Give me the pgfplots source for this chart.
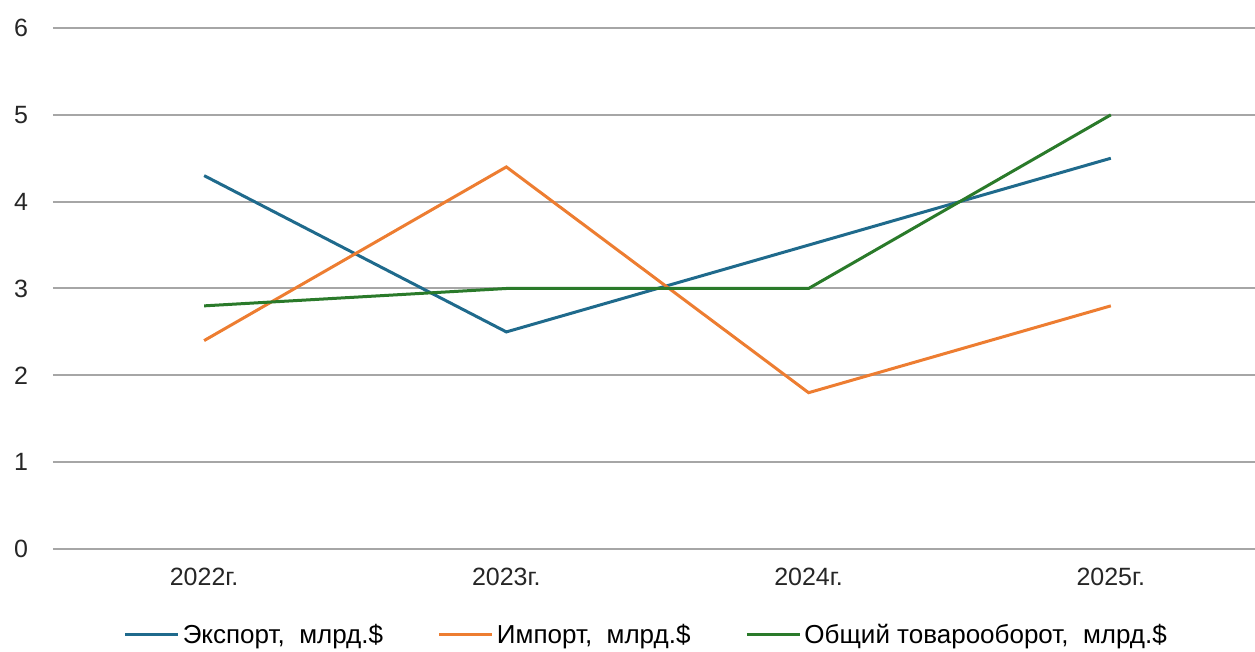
\documentclass[border=0pt]{standalone}
\usepackage{pgfplots}
\pgfplotsset{compat=1.18}
\usepackage{fontspec}
\setmainfont{Liberation Sans}
\definecolor{cexp}{HTML}{1F6A8C}
\definecolor{cimp}{HTML}{ED7D31}
\definecolor{ctot}{HTML}{2A7A2A}
\definecolor{cgrid}{HTML}{A6A6A6}
\begin{document}
\begin{tikzpicture}
\useasboundingbox (0,0) rectangle (627.5pt,326pt);
\begin{axis}[
  at={(26.5pt,51.5pt)}, anchor=south west,
  scale only axis, width=601pt, height=260.5pt,
  xmin=-0.5, xmax=3.477, ymin=0, ymax=6,
  xtick={0,1,2,3}, xticklabels={2022г.,2023г.,2024г.,2025г.},
  ytick={0,1,...,6},
  ymajorgrids, grid style={cgrid, line width=1pt},
  axis line style={draw=none}, major tick length=0pt,
  tick label style={font=\fontsize{12.5}{14}\selectfont, color=black!85},
  /pgf/number format/assume math mode=true,
  yticklabel style={anchor=east, xshift=-9pt},
  xticklabel style={yshift=-6pt},
  legend columns=3,
  legend style={draw=none, at={(0.494,-0.165)}, anchor=center,
    font=\fontsize{13}{15}\selectfont, column sep=0pt,
    nodes={inner xsep=1.5pt},
    /tikz/every odd column/.append style={column sep=0pt},
    /tikz/every even column/.append style={column sep=26pt}},
  legend image code/.code={\draw[#1] (0pt,0pt) -- (26.5pt,0pt);},
  clip=false,
]
\addplot[cexp, line width=1.5pt] coordinates {(0,4.3) (1,2.5) (2,3.5) (3,4.5)};
\addlegendentry{Экспорт,\ \ млрд.\$}
\addplot[cimp, line width=1.5pt] coordinates {(0,2.4) (1,4.4) (2,1.8) (3,2.8)};
\addlegendentry{Импорт,\ \ млрд.\$}
\addplot[ctot, line width=1.5pt] coordinates {(0,2.8) (1,3.0) (2,3.0) (3,5.0)};
\addlegendentry{Общий товарооборот,\ \ млрд.\$}
\end{axis}
\end{tikzpicture}
\end{document}
